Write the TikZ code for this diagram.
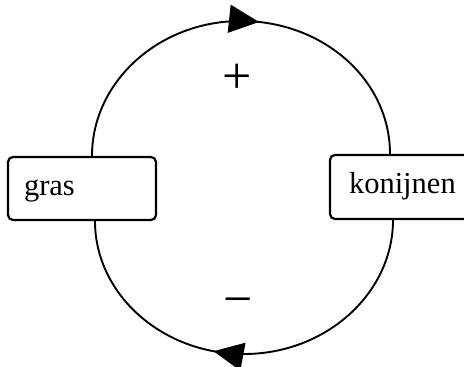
\documentclass[tikz,border=0pt]{standalone}
\usepackage{fontspec}
\setmainfont{Liberation Serif}
\usetikzlibrary{arrows.meta,decorations.markings}
\begin{document}
\begin{tikzpicture}[x=1pt,y=1pt,
  box/.style={draw, line width=2.2pt, rounded corners=5pt, inner ysep=0pt,
    align=left, font=\fontsize{30.5}{33}\selectfont},
  loop/.style={line width=1.9pt},
  sign/.style={inner sep=0pt, font=\fontsize{52}{52}\selectfont},
  midarrow/.style={postaction={decorate, decoration={markings,
    mark=at position #1 with {\arrow{Triangle[length=30pt,width=28pt]}}}}}
]
\useasboundingbox (0,0) rectangle (464,-367);
\node[box, minimum width=148pt, minimum height=63pt, inner xsep=16pt,
      text width=116pt, text height=20pt, text depth=7pt] (gras) at (82,-188.5) {gras};
\node[box, minimum width=148pt, minimum height=64pt, inner xsep=19pt,
      text width=110pt, text height=19pt, text depth=7pt] (konijnen) at (404,-187) {konijnen};
\draw[loop, midarrow=0.542] ([xshift=10pt]gras.north)
  .. controls (92,-82) and (158.7,-21) .. (241,-21)
  .. controls (323.3,-21) and (390,-80) .. ([xshift=-14pt]konijnen.north);
\draw[loop, midarrow=0.57] ([xshift=-11pt]konijnen.south)
  .. controls (393,-293) and (326.3,-354) .. (244,-354)
  .. controls (161.7,-354) and (95,-294) .. ([xshift=13pt]gras.south);
\node[sign] (plus) at (237,-79) {+};
\node[sign] (minus) at (238,-307) {−};
\end{tikzpicture}
\end{document}
